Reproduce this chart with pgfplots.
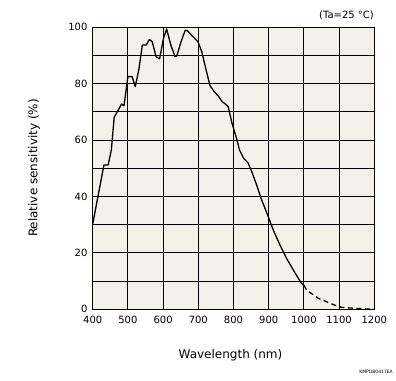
\documentclass[border=0pt]{standalone}
\usepackage{pgfplots}
\pgfplotsset{compat=1.18}
\usepackage{fontspec}
\setmainfont{DejaVu Sans}
\definecolor{bgc}{HTML}{F4F1EA}
\begin{document}
\begin{tikzpicture}
\path[use as bounding box] (-92.7pt,-70.7pt) rectangle (303.3pt,309.3pt);
\begin{axis}[
  at={(0,0)}, anchor=south west,
  scale only axis, width=281.6pt, height=282pt,
  xmin=400, xmax=1200, ymin=0, ymax=100,
  xtick={400,500,...,1200}, ytick={0,20,...,100},
  minor ytick={10,30,50,70,90},
  grid=both,
  major grid style={black, line width=0.8pt},
  minor grid style={black, line width=0.8pt},
  axis line style={black, line width=0.8pt},
  major tick length=0pt, minor tick length=0pt,
  axis background/.style={fill=bgc},
  /pgf/number format/assume math mode=true,
  /pgf/number format/1000 sep={},
  tick label style={font=\fontsize{10}{12}\selectfont, text=black},
  xticklabel style={yshift=-3pt},
  yticklabel style={xshift=-1.7pt},
]
\addplot[black, line width=1.3pt, line join=round] coordinates {
(400,30.2) (432,51.2) (444,51.2) (447,53) (453,56.5) (461,68.1) (472,70.5)
(482,72.8) (489,72.2) (500,82.5) (512,82.5) (521,79) (531,84.9) (541,93.7)
(552,93.7) (561,95.7) (569,94.9) (580,89.6) (590,88.8) (601,96) (610,99.4)
(622,93.7) (634,89.6) (639,89.8) (651,94.9) (663,99) (669,98.8) (683,96.9)
(699,94.9) (710,91.3) (721,85.5) (733,79.4) (745,77.2) (757,75.6) (768,73.6)
(777,72.8) (785,71.8) (796,65.9) (810,60) (817,56.5) (829,53.5) (841,52)
(852,48.8) (866,44) (880,38.8) (897,33.4) (913,28.1) (932,22.8) (951,18)
(973,13.3) (993,9.2) (1000,8.5)
};
\addplot[black, line width=1.3pt, dash pattern=on 5pt off 3.5pt] coordinates {
(1000,8.5) (1008,6.8) (1041,3.9) (1087,1.5) (1106,0.7) (1150,0.3) (1200,0)
};
\end{axis}
\node[rotate=90, font=\fontsize{12}{14}\selectfont] at (-58.7pt,141.3pt) {Relative sensitivity (\%)};
\node[font=\fontsize{12}{14}\selectfont] at (137.8pt,-45.7pt) {Wavelength (nm)};
\node[anchor=east, inner sep=0pt, font=\fontsize{10}{12}\selectfont] at (281.3pt,294.3pt) {(Ta=25 °C)};
\node[anchor=east, inner sep=0pt, font=\fontsize{4.5}{5}\selectfont] at (300.3pt,-62.7pt) {KMPDB0417EA};
\end{tikzpicture}
\end{document}
